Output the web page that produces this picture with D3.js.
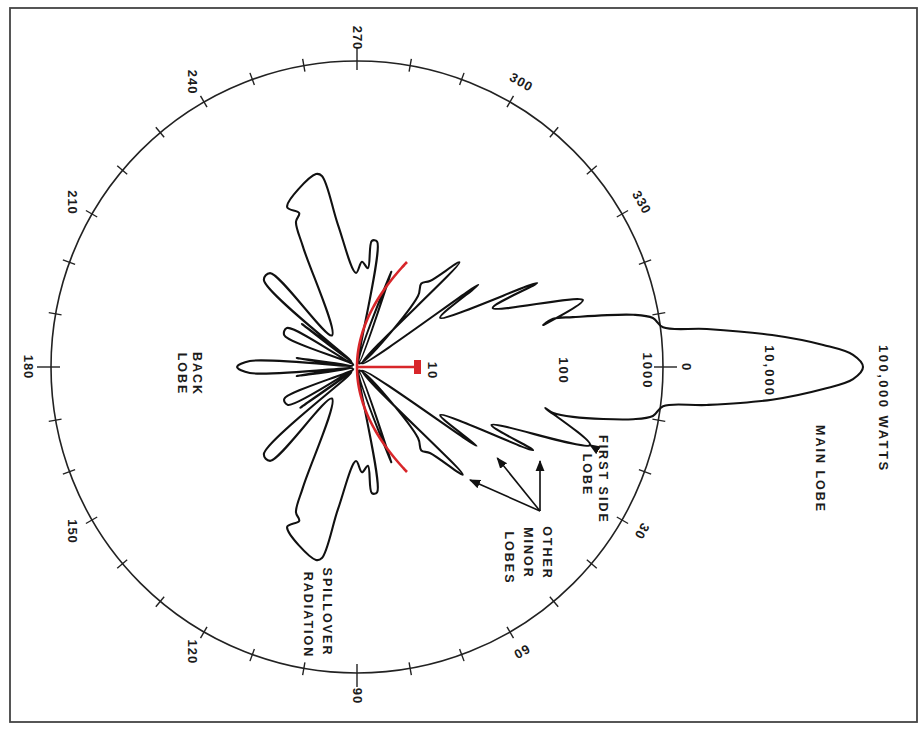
<!DOCTYPE html>
<html>
<head>
<meta charset="utf-8">
<script src="https://cdn.jsdelivr.net/npm/d3@7/dist/d3.min.js"></script>
<style>
  html, body { margin: 0; padding: 0; background: #fff; }
  text { font-family: "Liberation Sans", Arial, sans-serif; fill: #1b1b1b; font-weight: bold; }
</style>
</head>
<body>
<svg id="chart" width="922" height="730"></svg>
<script>
// Bearing ring (degrees, clockwise from the beam axis)
const bearingLabels = [0, 30, 60, 90, 120, 150, 180, 210, 240, 270, 300, 330];
const bearingTicks = d3.range(0, 360, 10);

// Radiated power scale (watts, logarithmic)
const powerTicks = [10, 100, 1000, 10000];
const powerTickText = ["10", "100", "1000", "10,000"];
const peakPower = 100000;
const peakText = "100,000 WATTS";

// Radiation pattern outline, traced around the antenna: bearing (deg) and power (W)
const patternBearing = [
  0, 358.6, 357.3, 355.6, 353.8, 352.6, 350.6, 349.3, 347.0, 346.2,
  347.3, 343.5, 336.5, 335.0, 329.4, 325.9, 324.5, 314.4, 310.3, 307.6,
  310.7, 302.9, 289.8, 292.4, 279.1, 276.7, 276.3, 272.7, 269.4, 262.4,
  259.6, 258.0, 246.4, 249.4, 247.2, 245.8, 231.5, 227.2, 223.1, 225.0,
  218.0, 218.3, 209.1, 203.7, 207.9, 188.5, 191.8, 183.2, 180.0, 176.8,
  168.2, 171.5, 152.1, 156.3, 151.2, 141.7, 144.3, 135.0, 136.9, 132.8,
  128.5, 114.2, 112.8, 110.6, 113.6, 102.0, 100.4, 97.6, 90.6, 87.3,
  83.7, 83.3, 80.9, 67.6, 70.2, 57.1, 49.3, 52.4, 49.7, 45.5,
  35.5, 33.4, 30.0, 25.3, 23.3, 18.5, 12.3, 13.2, 13.0, 10.7,
  9.4, 7.3, 6.2, 4.5, 2.7, 1.4
];
const patternWatts = [
  100000, 80000, 41000, 13000, 3000, 1120, 920, 600, 155, 99,
  77, 213, 29, 92, 9.0, 28, 1.15, 28, 13, 11,
  8.4, 1.1, 10, 1.1, 18, 18, 9.6, 11, 8.5, 26,
  83, 89, 53, 42, 36, 20, 2.5, 18.4, 18.2, 1.2,
  4.9, 1.12, 6.2, 6.1, 1.1, 4.0, 1.12, 11.5, 15.3, 11.5,
  1.12, 4.0, 1.1, 6.1, 6.0, 1.12, 4.9, 1.2, 18.2, 18.4,
  2.5, 20, 36, 42, 53, 89, 83, 26, 8.5, 11,
  9.6, 18, 18, 1.1, 10, 1.1, 8.4, 11, 13, 31,
  1.15, 26, 8.9, 84, 28, 268, 80, 98, 155, 600,
  920, 1120, 3000, 13000, 41000, 80000
];

// Callout arrows: [bearing, watts]
const minorArrowFrom = [38.2, 200];
const minorArrowTo = [[27.2, 108], [33.0, 45], [45.0, 38]];
const sideArrowFrom = [19.0, 330];
const sideArrowTo = [18.5, 268];

const svg = d3.select("#chart");
const W = 922, H = 730;
const cx = 357, cy = 367, ringR = 306;

const r = d3.scaleLog().domain([1, peakPower]).range([0, 506]);
const rad = d => d * Math.PI / 180;
const toXY = (b, w) => [cx + r(w) * Math.cos(rad(b)), cy + r(w) * Math.sin(rad(b))];

svg.append("rect").attr("width", W).attr("height", H).attr("fill", "#fff");

// page frame
svg.append("rect")
  .attr("x", 10).attr("y", 8).attr("width", 907).attr("height", 714)
  .attr("fill", "none").attr("stroke", "#444").attr("stroke-width", 1.8);

const defs = svg.append("defs");
defs.append("marker")
  .attr("id", "head").attr("viewBox", "0 0 10 10")
  .attr("refX", 9).attr("refY", 5)
  .attr("markerWidth", 7).attr("markerHeight", 7)
  .attr("orient", "auto")
  .append("path").attr("d", "M0,1 L10,5 L0,9 Z").attr("fill", "#111");

// bearing ring
const ring = svg.append("g").attr("transform", `translate(${cx},${cy})`);
ring.append("circle").attr("r", ringR).attr("fill", "none")
  .attr("stroke", "#222").attr("stroke-width", 1.6);

ring.selectAll("line.tick").data(bearingTicks).join("line")
  .attr("class", "tick")
  .attr("x1", d => (ringR - (d % 90 === 0 ? 9 : 6)) * Math.cos(rad(d)))
  .attr("y1", d => (ringR - (d % 90 === 0 ? 9 : 6)) * Math.sin(rad(d)))
  .attr("x2", d => (ringR + (d % 90 === 0 ? 14 : 7)) * Math.cos(rad(d)))
  .attr("y2", d => (ringR + (d % 90 === 0 ? 14 : 7)) * Math.sin(rad(d)))
  .attr("stroke", "#222").attr("stroke-width", 1.4);

const labelR = 329;
ring.selectAll("text.bearing").data(bearingLabels).join("text")
  .attr("class", "bearing")
  .attr("text-anchor", "middle").attr("dominant-baseline", "central")
  .attr("font-size", 13).attr("letter-spacing", 1)
  .attr("transform", d => {
    const x = labelR * Math.cos(rad(d)), y = labelR * Math.sin(rad(d));
    const rot = (d >= 90 && d <= 270) ? 90 : d + 90;
    return `translate(${x},${y}) rotate(${rot})`;
  })
  .text(d => d);

// radiation pattern
const pattern = patternBearing.map((b, i) => [b, patternWatts[i]]);
const radial = d3.lineRadial()
  .angle(d => rad(d[0] + 90))
  .radius(d => r(d[1]))
  .curve(d3.curveCatmullRomClosed.alpha(0.5));

svg.append("path")
  .attr("transform", `translate(${cx},${cy})`)
  .attr("d", radial(pattern))
  .attr("fill", "none").attr("stroke", "#111")
  .attr("stroke-width", 2.1).attr("stroke-linejoin", "round");

// reflector and feed
const dishHalf = 105, dishDepth = 50;
const dish = d3.range(-dishHalf, dishHalf + 1, 3).map(y => [cx + dishDepth * (y / dishHalf) ** 2, cy + y]);
svg.append("path").attr("d", d3.line().curve(d3.curveBasis)(dish))
  .attr("fill", "none").attr("stroke", "#d8262a").attr("stroke-width", 2.6);
svg.append("line")
  .attr("x1", cx).attr("y1", cy).attr("x2", cx + 58).attr("y2", cy)
  .attr("stroke", "#d8262a").attr("stroke-width", 2.6);
svg.append("rect")
  .attr("x", cx + 57).attr("y", cy - 7).attr("width", 7).attr("height", 14)
  .attr("fill", "#d8262a");

// power scale labels along the beam axis
const shift = [-26, 4, -13, 8];
svg.selectAll("text.power").data(powerTicks).join("text")
  .attr("class", "power")
  .attr("text-anchor", "middle").attr("dominant-baseline", "central")
  .attr("font-size", 13).attr("letter-spacing", 2)
  .attr("transform", (d, i) => `translate(${cx + r(d) + shift[i]},${cy + 4}) rotate(90)`)
  .text((d, i) => powerTickText[i]);

svg.append("text")
  .attr("dominant-baseline", "central")
  .attr("font-size", 13).attr("letter-spacing", 2.5)
  .attr("transform", `translate(${cx + r(peakPower) + 20},${cy - 22}) rotate(90)`)
  .text(peakText);

// callout arrows
const arrowGroup = svg.append("g");
minorArrowTo.forEach(t => {
  const [x1, y1] = toXY(...minorArrowFrom), [x2, y2] = toXY(...t);
  arrowGroup.append("line").attr("x1", x1).attr("y1", y1).attr("x2", x2).attr("y2", y2)
    .attr("stroke", "#111").attr("stroke-width", 1.6).attr("marker-end", "url(#head)");
});
{
  const [x1, y1] = toXY(...sideArrowFrom), [x2, y2] = toXY(...sideArrowTo);
  arrowGroup.append("line").attr("x1", x1).attr("y1", y1).attr("x2", x2).attr("y2", y2)
    .attr("stroke", "#111").attr("stroke-width", 1.6).attr("marker-end", "url(#head)");
}

// annotations
const notes = [
  { t: "MAIN LOBE", x: 820, y: 425, a: "start" },
  { t: "BACK", x: 197, y: 374, a: "middle" },
  { t: "LOBE", x: 182, y: 374, a: "middle" },
  { t: "FIRST SIDE", x: 603, y: 435, a: "start" },
  { t: "LOBE", x: 587, y: 475, a: "middle" },
  { t: "OTHER", x: 547, y: 553, a: "middle" },
  { t: "MINOR", x: 528, y: 553, a: "middle" },
  { t: "LOBES", x: 509, y: 558, a: "middle" },
  { t: "SPILLOVER", x: 327, y: 612, a: "middle" },
  { t: "RADIATION", x: 308, y: 615, a: "middle" }
];
svg.selectAll("text.note").data(notes).join("text")
  .attr("class", "note")
  .attr("text-anchor", d => d.a).attr("dominant-baseline", "central")
  .attr("font-size", 12.5).attr("letter-spacing", 2)
  .attr("transform", d => `translate(${d.x},${d.y}) rotate(90)`)
  .text(d => d.t);
</script>
</body>
</html>
